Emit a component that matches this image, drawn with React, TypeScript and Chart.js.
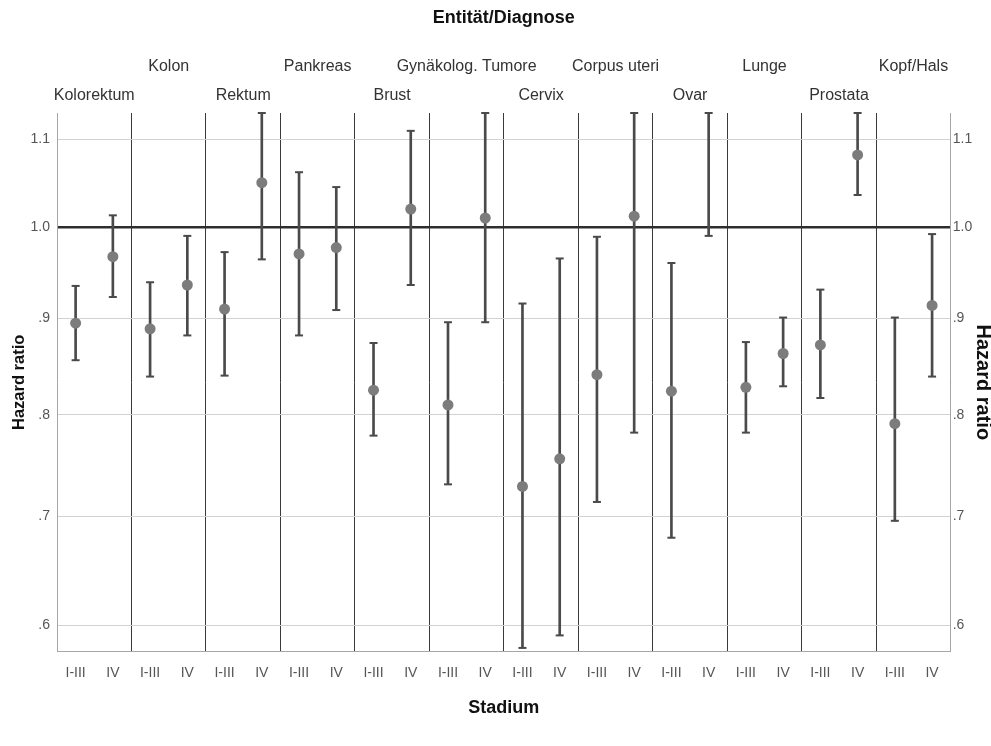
import { useEffect, useRef } from 'react';
import { Chart, registerables, LinearScale } from 'chart.js';

// Power-scaled value axis (SPSS "power" scale), exponent near 0.5
const POWER = 0.55;

class PowerScale extends LinearScale {
  static id = 'power';
  static defaults = LinearScale.defaults;
  getPixelForValue(value: any) {
    if (value === null || value === undefined || isNaN(value)) return NaN;
    const a = Math.pow((this as any).min, POWER);
    const b = Math.pow((this as any).max, POWER);
    return this.getPixelForDecimal((Math.pow(value, POWER) - a) / (b - a));
  }
  getValueForPixel(pixel: number) {
    const a = Math.pow((this as any).min, POWER);
    const b = Math.pow((this as any).max, POWER);
    const s = a + this.getDecimalForPixel(pixel) * (b - a);
    return Math.pow(s, 1 / POWER);
  }
}

Chart.register(...registerables, PowerScale as any);

const panels = [
  'Kolorektum', 'Kolon', 'Rektum', 'Pankreas', 'Brust', 'Gynäkolog. Tumore',
  'Cervix', 'Corpus uteri', 'Ovar', 'Lunge', 'Prostata', 'Kopf/Hals',
];
const stages = ['I-III', 'IV'];

const hazardRatio = [
  0.895, 0.967, 0.889, 0.936, 0.910, 1.050, 0.970, 0.977,
  0.825, 1.020, 0.810, 1.010, 0.729, 0.756, 0.841, 1.012,
  0.824, 1.16, 0.828, 0.863, 0.872, 1.082, 0.791, 0.914,
];
const lowerCI = [
  0.856, 0.923, 0.839, 0.882, 0.840, 0.964, 0.882, 0.909,
  0.779, 0.936, 0.731, 0.896, 0.580, 0.591, 0.714, 0.782,
  0.680, 0.990, 0.782, 0.829, 0.817, 1.036, 0.696, 0.839,
];
const upperCI = [
  0.935, 1.013, 0.939, 0.990, 0.972, 1.131, 1.062, 1.045,
  0.874, 1.110, 0.896, 1.131, 0.916, 0.965, 0.989, 1.131,
  0.960, 1.131, 0.875, 0.901, 0.931, 1.131, 0.901, 0.992,
];

const yTickValues = [0.6, 0.7, 0.8, 0.9, 1.0, 1.1];
const yTickLabels = ['.6', '.7', '.8', '.9', '1.0', '1.1'];
const yMin = 0.5767;
const yMax = 1.131;

export default function App() {
  const ref = useRef<HTMLCanvasElement | null>(null);

  useEffect(() => {
    if (!ref.current) return;
    Chart.defaults.font.family = "'Liberation Sans', Arial, sans-serif";

    const xLabels: string[] = [];
    panels.forEach(() => stages.forEach((s) => xLabels.push(s)));
    const panelLabels = panels.map((p, i) => (i % 2 === 0 ? ['', p] : [p, '']));

    const yTicks = (axis: any) => {
      axis.ticks = yTickValues.map((v) => ({ value: v }));
    };

    const chart = new Chart(ref.current, {
      type: 'bar',
      data: {
        labels: xLabels,
        datasets: [
          {
            type: 'line',
            label: 'Hazard ratio',
            data: hazardRatio,
            showLine: false,
            pointStyle: 'circle',
            pointRadius: 5.5,
            pointBackgroundColor: '#7c7c7c',
            pointBorderColor: '#7c7c7c',
            pointBorderWidth: 0,
            clip: 8,
            xAxisID: 'x',
            yAxisID: 'y',
          } as any,
          {
            type: 'line',
            label: 'upper',
            data: upperCI,
            showLine: false,
            pointStyle: 'line',
            pointRadius: 4,
            pointBorderWidth: 2,
            pointBorderColor: '#4a4a4a',
            clip: false,
            xAxisID: 'x',
            yAxisID: 'y',
          } as any,
          {
            type: 'line',
            label: 'lower',
            data: lowerCI,
            showLine: false,
            pointStyle: 'line',
            pointRadius: 4,
            pointBorderWidth: 2,
            pointBorderColor: '#4a4a4a',
            clip: false,
            xAxisID: 'x',
            yAxisID: 'y',
          } as any,
          {
            type: 'bar',
            label: 'CI',
            data: lowerCI.map((l, i) => [l, upperCI[i]]) as any,
            backgroundColor: '#4a4a4a',
            barThickness: 2,
            xAxisID: 'x',
            yAxisID: 'y',
          } as any,
        ],
      },
      options: {
        animation: false,
        responsive: false,
        layout: { padding: 0 },
        plugins: {
          legend: { display: false },
          tooltip: { enabled: false },
          title: { display: false },
        },
        scales: {
          x: {
            type: 'category',
            position: 'bottom',
            offset: true,
            grid: { display: false, drawTicks: false },
            border: { display: true, color: '#a6a6a6', width: 1 },
            ticks: {
              autoSkip: false,
              maxRotation: 0,
              minRotation: 0,
              padding: 13,
              color: '#555555',
              font: { size: 14 },
            },
            title: {
              display: true,
              text: 'Stadium',
              color: '#111111',
              font: { size: 18, weight: 'bold' },
              padding: { top: 0, bottom: 27 },
            },
            afterFit: (axis: any) => {
              axis.height = 94.3;
            },
          },
          x2: {
            type: 'category',
            position: 'top',
            labels: panelLabels as any,
            offset: true,
            grid: {
              display: true,
              drawTicks: false,
              offset: true,
              color: (ctx: any) =>
                ctx.index === 0 || ctx.index === panels.length ? 'rgba(0,0,0,0)' : '#3a3a3a',
              lineWidth: 1,
            },
            border: { display: false },
            ticks: {
              autoSkip: false,
              maxRotation: 0,
              minRotation: 0,
              padding: 2.5,
              color: '#333333',
              font: { size: 16, lineHeight: 1.8125 },
            },
            title: {
              display: true,
              text: 'Entität/Diagnose',
              color: '#111111',
              font: { size: 18, weight: 'bold' },
              padding: { top: 7, bottom: 0 },
            },
            afterFit: (axis: any) => {
              axis.height = 113;
            },
          } as any,
          y: {
            type: 'power' as any,
            position: 'left',
            min: yMin,
            max: yMax,
            afterBuildTicks: yTicks,
            grid: {
              drawTicks: false,
              color: (ctx: any) => (ctx.tick && ctx.tick.value === 1 ? '#2e2e2e' : '#d2d2d2'),
              lineWidth: (ctx: any) => (ctx.tick && ctx.tick.value === 1 ? 2.5 : 1),
            },
            border: { display: true, color: '#a6a6a6', width: 1 },
            ticks: {
              padding: 7,
              color: '#555555',
              font: { size: 14 },
              callback: (_v: any, i: number) => yTickLabels[i],
            },
            title: {
              display: true,
              text: 'Hazard ratio',
              color: '#111111',
              font: { size: 16.5, weight: 'bold' },
              padding: { top: 10, bottom: 0 },
            },
            afterFit: (axis: any) => {
              axis.width = 57;
            },
          } as any,
          y2: {
            type: 'power' as any,
            position: 'right',
            min: yMin,
            max: yMax,
            afterBuildTicks: yTicks,
            grid: { display: false, drawTicks: false },
            border: { display: true, color: '#a6a6a6', width: 1 },
            ticks: {
              padding: 2,
              color: '#555555',
              font: { size: 14 },
              callback: (_v: any, i: number) => yTickLabels[i],
            },
            title: {
              display: true,
              text: 'Hazard ratio',
              color: '#111111',
              font: { size: 20, weight: 'bold', lineHeight: 1 },
              padding: { top: -2, bottom: 0 },
            },
            afterFit: (axis: any) => {
              axis.width = 40.3;
            },
          } as any,
        },
      },
    });
    return () => chart.destroy();
  }, []);

  return (
    <div style={{ position: 'fixed', left: 0, top: 0, width: 991, height: 746, background: '#ffffff' }}>
      <canvas ref={ref} width={991} height={746} style={{ display: 'block' }} />
    </div>
  );
}
